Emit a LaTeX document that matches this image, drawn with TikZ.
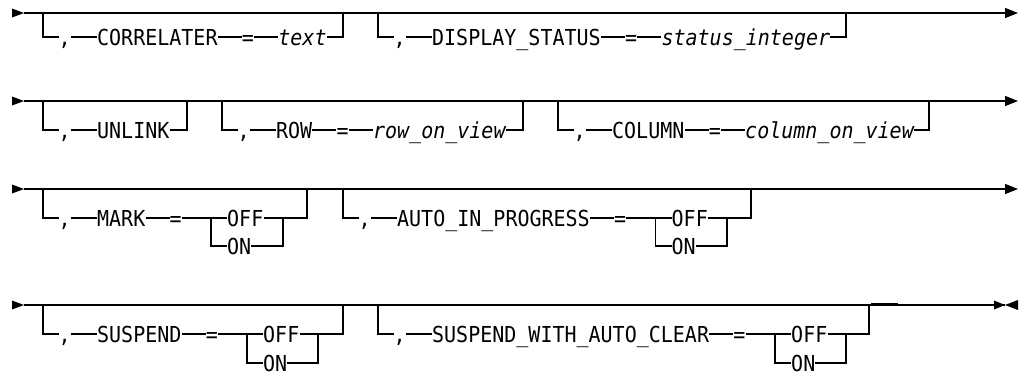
\documentclass[tikz,border=0pt]{standalone}
\usepackage{fontspec}
\usepackage{graphicx}
\setmonofont{DejaVu Sans Mono}
\usetikzlibrary{positioning,arrows.meta}
\newcommand\railstart[1]{\fill (#1) ++(-12,-4.5) -- (#1) -- ++(-12,4.5) -- cycle;}
\newcommand\rt[1]{\scalebox{1}[1.1]{#1}}
\begin{document}
\begin{tikzpicture}[x=1pt,y=-1pt,
  rail/.style={line width=1.2pt, black},
  endtip/.style={-{Triangle[length=13pt,width=10pt]}},
  lbl/.style={inner xsep=0pt, inner ysep=0pt, text height=16.06pt, text depth=0pt,
    anchor=west, font=\ttfamily\fontsize{20}{24}\selectfont},
  var/.style={lbl, font=\ttfamily\itshape\fontsize{20}{24}\selectfont},
  ]
\useasboundingbox (0,0) rectangle (1022,375);

% ---------------- Row 1 ----------------
\coordinate (s1) at (24,13); \coordinate (t1) at (1018,13);
\draw[rail,endtip] (s1) -- (t1);
\railstart{s1}
% branch A
\coordinate (r1aL) at (43,13); \coordinate (r1aR) at (343,13);
\node[lbl] (r1ac) at (58.5,37) {\rt{,}};
\node[lbl, right=26pt of r1ac] (r1ak) {\rt{CORRELATER}};
\node[lbl, right=24pt of r1ak] (r1ae) {\rt{=}};
\node[var, right=24pt of r1ae] (r1av) {\rt{text}};
\draw[rail] (r1aL) |- (r1ac.west);
\draw[rail] (r1ac) -- (r1ak); \draw[rail] (r1ak) -- (r1ae); \draw[rail] (r1ae) -- (r1av);
\draw[rail] (r1av.east) -| (r1aR);
% branch B
\coordinate (r1bL) at (378,13); \coordinate (r1bR) at (846,13);
\node[lbl] (r1bc) at (393.5,37) {\rt{,}};
\node[lbl, right=26pt of r1bc] (r1bk) {\rt{DISPLAY\_STATUS}};
\node[lbl, right=24pt of r1bk] (r1be) {\rt{=}};
\node[var, right=24pt of r1be] (r1bv) {\rt{status\_integer}};
\draw[rail] (r1bL) |- (r1bc.west);
\draw[rail] (r1bc) -- (r1bk); \draw[rail] (r1bk) -- (r1be); \draw[rail] (r1be) -- (r1bv);
\draw[rail] (r1bv.east) -| (r1bR);

% ---------------- Row 2 ----------------
\coordinate (s2) at (24,101); \coordinate (t2) at (1018,101);
\draw[rail,endtip] (s2) -- (t2);
\railstart{s2}
% branch A
\coordinate (r2aL) at (43,101); \coordinate (r2aR) at (187,101);
\node[lbl] (r2ac) at (58.5,130) {\rt{,}};
\node[lbl, right=26pt of r2ac] (r2ak) {\rt{UNLINK}};
\draw[rail] (r2aL) |- (r2ac.west);
\draw[rail] (r2ac) -- (r2ak);
\draw[rail] (r2ak.east) -| (r2aR);
% branch B
\coordinate (r2bL) at (222,101); \coordinate (r2bR) at (523,101);
\node[lbl] (r2bc) at (237.5,130) {\rt{,}};
\node[lbl, right=26pt of r2bc] (r2bk) {\rt{ROW}};
\node[lbl, right=24pt of r2bk] (r2be) {\rt{=}};
\node[var, right=24pt of r2be] (r2bv) {\rt{row\_on\_view}};
\draw[rail] (r2bL) |- (r2bc.west);
\draw[rail] (r2bc) -- (r2bk); \draw[rail] (r2bk) -- (r2be); \draw[rail] (r2be) -- (r2bv);
\draw[rail] (r2bv.east) -| (r2bR);
% branch C
\coordinate (r2cL) at (558,101); \coordinate (r2cR) at (929,101);
\node[lbl] (r2cc) at (573.5,130) {\rt{,}};
\node[lbl, right=26pt of r2cc] (r2ck) {\rt{COLUMN}};
\node[lbl, right=24pt of r2ck] (r2ce) {\rt{=}};
\node[var, right=24pt of r2ce] (r2cv) {\rt{column\_on\_view}};
\draw[rail] (r2cL) |- (r2cc.west);
\draw[rail] (r2cc) -- (r2ck); \draw[rail] (r2ck) -- (r2ce); \draw[rail] (r2ce) -- (r2cv);
\draw[rail] (r2cv.east) -| (r2cR);

% ---------------- Row 3 ----------------
\coordinate (s3) at (24,189); \coordinate (t3) at (1018,189);
\draw[rail,endtip] (s3) -- (t3);
\railstart{s3}
% branch A
\coordinate (r3aL) at (43,189); \coordinate (r3aR) at (307,189);
\node[lbl] (r3ac) at (58.5,218) {\rt{,}};
\node[lbl, right=26pt of r3ac] (r3ak) {\rt{MARK}};
\node[lbl, right=24pt of r3ak] (r3ae) {\rt{=}};
\coordinate (r3aCL) at (211,218); \coordinate (r3aCR) at (283,218);
\node[lbl] (r3aoff) at (227,218) {\rt{OFF}};
\node[lbl] (r3aon) at (227,246) {\rt{ON}};
\draw[rail] (r3aL) |- (r3ac.west);
\draw[rail] (r3ac) -- (r3ak); \draw[rail] (r3ak) -- (r3ae);
\draw[rail] (r3ae) -- (r3aoff);
\draw[rail] (r3aCL) |- (r3aon.west);
\draw[rail] (r3aon.east) -| (r3aCR);
\draw[rail] (r3aoff.east) -| (r3aR);
% branch B
\coordinate (r3bL) at (343,189); \coordinate (r3bR) at (751,189);
\node[lbl] (r3bc) at (358.5,218) {\rt{,}};
\node[lbl, right=26pt of r3bc] (r3bk) {\rt{AUTO\_IN\_PROGRESS}};
\node[lbl, right=24pt of r3bk] (r3be) {\rt{=}};
\coordinate (r3bCL) at (655.5,218); \coordinate (r3bCR) at (727,218);
\node[lbl] (r3boff) at (671.5,218) {\rt{OFF}};
\node[lbl] (r3bon) at (671.5,246) {\rt{ON}};
\draw[rail] (r3bL) |- (r3bc.west);
\draw[rail] (r3bc) -- (r3bk); \draw[rail] (r3bk) -- (r3be);
\draw[rail] (r3be) -- (r3boff);
\draw[rail] (r3bCL) |- (r3bon.west);
\draw[rail] (r3bon.east) -| (r3bCR);
\draw[rail] (r3boff.east) -| (r3bR);

% ---------------- Row 4 ----------------
\coordinate (s4) at (24,305); \coordinate (e4) at (1005,305);
\draw[rail] (s4) -- (e4);
\railstart{s4}
\fill (e4) ++(-11,-4.5) -- (e4) -- ++(-11,4.5) -- cycle;
\fill (e4) -- ++(13,-5) -- ++(0,10) -- cycle;
% branch A
\coordinate (r4aL) at (43,305); \coordinate (r4aR) at (343,305);
\node[lbl] (r4ac) at (58.5,334) {\rt{,}};
\node[lbl, right=26pt of r4ac] (r4ak) {\rt{SUSPEND}};
\node[lbl, right=24pt of r4ak] (r4ae) {\rt{=}};
\coordinate (r4aCL) at (247,334); \coordinate (r4aCR) at (318,334);
\node[lbl] (r4aoff) at (263,334) {\rt{OFF}};
\node[lbl] (r4aon) at (263,363) {\rt{ON}};
\draw[rail] (r4aL) |- (r4ac.west);
\draw[rail] (r4ac) -- (r4ak); \draw[rail] (r4ak) -- (r4ae);
\draw[rail] (r4ae) -- (r4aoff);
\draw[rail] (r4aCL) |- (r4aon.west);
\draw[rail] (r4aon.east) -| (r4aCR);
\draw[rail] (r4aoff.east) -| (r4aR);
% branch B
\coordinate (r4bL) at (378,305); \coordinate (r4bR) at (869,305);
\node[lbl] (r4bc) at (393.5,334) {\rt{,}};
\node[lbl, right=26pt of r4bc] (r4bk) {\rt{SUSPEND\_WITH\_AUTO\_CLEAR}};
\node[lbl, right=24pt of r4bk] (r4be) {\rt{=}};
\coordinate (r4bCL) at (775,334); \coordinate (r4bCR) at (846,334);
\node[lbl] (r4boff) at (791,334) {\rt{OFF}};
\node[lbl] (r4bon) at (791,363) {\rt{ON}};
\draw[rail] (r4bL) |- (r4bc.west);
\draw[rail] (r4bc) -- (r4bk); \draw[rail] (r4bk) -- (r4be);
\draw[rail] (r4be) -- (r4boff);
\draw[rail] (r4bCL) |- (r4bon.west);
\draw[rail] (r4bon.east) -| (r4bCR);
\draw[rail] (r4boff.east) -| (r4bR);
% short raised segment after the last branch
\coordinate (r4x1) at (871,303.6); \coordinate (r4x2) at (898,303.6);
\draw[rail] (r4x1) -- (r4x2);
\end{tikzpicture}
\end{document}
